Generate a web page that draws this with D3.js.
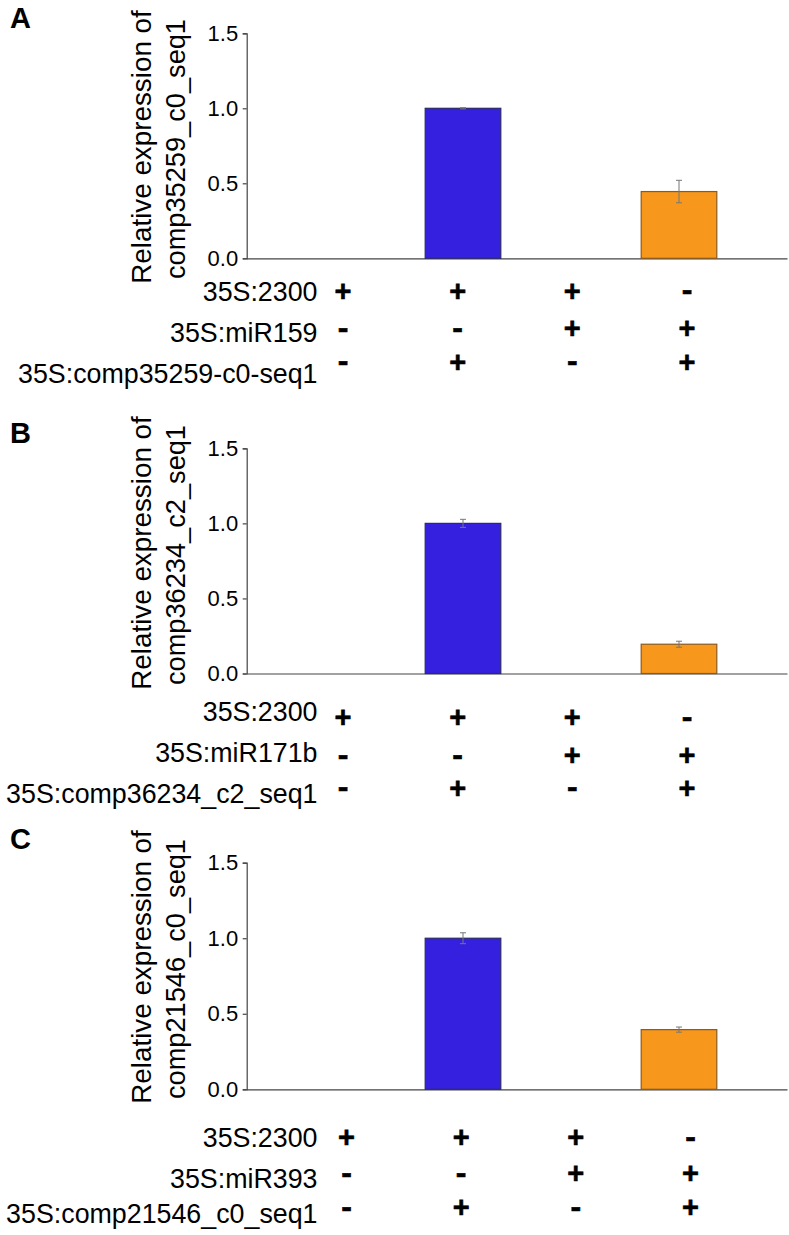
<!DOCTYPE html>
<html>
<head>
<meta charset="utf-8">
<script src="https://cdn.jsdelivr.net/npm/d3@7"></script>
<style>
  html, body { margin: 0; padding: 0; background: #fff; }
  svg { display: block; }
  text { font-family: "Liberation Sans", Arial, Helvetica, sans-serif; fill: #000; }
</style>
</head>
<body>
<svg id="chart" width="789" height="1235"></svg>
<script>
// ---------------- data ----------------
const groups = ["g1", "g2", "g3", "g4"];
const yTicks = [0, 0.5, 1.0, 1.5];
const panelLetters = ["A", "B", "C"];
const yTitleLine1 = ["Relative expression of", "Relative expression of", "Relative expression of"];
const yTitleLine2 = ["comp35259_c0_seq1", "comp36234_c2_seq1", "comp21546_c0_seq1"];
const row1Labels = ["35S:2300", "35S:2300", "35S:2300"];
const row2Labels = ["35S:miR159", "35S:miR171b", "35S:miR393"];
const row3Labels = ["35S:comp35259-c0-seq1", "35S:comp36234_c2_seq1", "35S:comp21546_c0_seq1"];
const signs2300 = ["+", "+", "+", "-"];
const signsMiR = ["-", "-", "+", "+"];
const signsTarget = ["-", "+", "-", "+"];
const valuesA = [0, 1.0, 0, 0.445];
const errorsA = [0, 0.004, 0, 0.075];
const valuesB = [0, 1.0, 0, 0.195];
const errorsB = [0, 0.027, 0, 0.02];
const valuesC = [0, 1.0, 0, 0.395];
const errorsC = [0, 0.036, 0, 0.017];

const panelValues = [valuesA, valuesB, valuesC];
const panelErrors = [errorsA, errorsB, errorsC];

// ---------------- layout ----------------
const layout = [
  { zero: 258.3, top: 33.3, letterY: 28.3, titleY: 147, labelOff: [33, 73.7, 115], signOff: [32.4, 70, 103.4], colShift: 0 },
  { zero: 673.5, top: 448.3, letterY: 443.3, titleY: 553, labelOff: [37.8, 78.5, 119.8], signOff: [44, 81.5, 114.2], colShift: 0 },
  { zero: 1089.3, top: 862.7, letterY: 849, titleY: 967, labelOff: [48.2, 88.7, 124], signOff: [48, 84, 118], colShift: 3.5 }
];
const axisX = 246.7;
const axisRight = 787;
const blue = "#3620E0", orange = "#F7971C";
const blueStroke = "#2b2b66", orangeStroke = "#8a5a22";

const svg = d3.select("#chart");

const x = d3.scaleBand().domain(groups).range([301, 733]).paddingInner(0.3).paddingOuter(0.15);

panelLetters.forEach((letter, p) => {
  const L = layout[p];
  const g = svg.append("g");
  const y = d3.scaleLinear().domain([0, 1.5]).range([L.zero, L.top]);

  // panel letter
  g.append("text").attr("x", 10).attr("y", L.letterY)
    .attr("font-size", 29).attr("font-weight", "bold").text(letter);

  // y axis
  const yAxis = d3.axisLeft(y).tickValues(yTicks).tickFormat(d3.format(".1f"))
    .tickSize(4).tickPadding(4.5);
  const ax = g.append("g").attr("transform", `translate(${axisX},0)`).call(yAxis);
  ax.select(".domain").attr("stroke", "#444").attr("stroke-width", 1.2);
  ax.selectAll(".tick line").attr("stroke", "#444").attr("stroke-width", 1.2);
  ax.selectAll(".tick text").attr("font-size", 22)
    .attr("font-family", "'Liberation Sans', Arial, sans-serif").attr("fill", "#000");

  // x baseline
  const xLine = d3.scaleLinear().domain([0, 1]).range([axisX, axisRight]);
  const xAx = d3.axisBottom(xLine).tickValues([]).tickSizeOuter(0);
  const xa = g.append("g").attr("transform", `translate(0,${L.zero})`).call(xAx);
  xa.select(".domain").attr("stroke", "#444").attr("stroke-width", 1.2);

  // y title (two lines, rotated)
  const tcy = L.titleY;
  g.append("text").attr("transform", `translate(151,${tcy}) rotate(-90)`)
    .attr("text-anchor", "middle").attr("font-size", 27.8).text(yTitleLine1[p]);
  g.append("text").attr("transform", `translate(185,${tcy + 2}) rotate(-90)`)
    .attr("text-anchor", "middle").attr("font-size", 27.2).text(yTitleLine2[p]);

  // bars
  const vals = panelValues[p], errs = panelErrors[p];
  const data = groups.map((k, i) => ({ k, v: vals[i], e: errs[i], i }));
  const barData = data.filter(d => d.v > 0);
  g.selectAll("rect.bar").data(barData).enter().append("rect")
    .attr("class", "bar")
    .attr("x", d => x(d.k))
    .attr("width", x.bandwidth())
    .attr("y", d => y(d.v))
    .attr("height", d => y(0) - y(d.v))
    .attr("fill", d => d.i < 2 ? blue : orange)
    .attr("stroke", d => d.i < 2 ? blueStroke : orangeStroke)
    .attr("stroke-width", 1.2);

  // error bars
  const eg = g.selectAll("g.err").data(barData.filter(d => d.e > 0)).enter().append("g")
    .attr("class", "err").attr("stroke", "#777").attr("stroke-width", 1);
  const cx = d => x(d.k) + x.bandwidth() / 2;
  eg.append("line").attr("x1", cx).attr("x2", cx)
    .attr("y1", d => y(d.v + d.e)).attr("y2", d => y(d.v - d.e));
  eg.append("line").attr("x1", d => cx(d) - 3).attr("x2", d => cx(d) + 3)
    .attr("y1", d => y(d.v + d.e)).attr("y2", d => y(d.v + d.e));
  eg.append("line").attr("x1", d => cx(d) - 3).attr("x2", d => cx(d) + 3)
    .attr("y1", d => y(d.v - d.e)).attr("y2", d => y(d.v - d.e));

  // row labels
  const labels = [row1Labels[p], row2Labels[p], row3Labels[p]];
  const fsL = 26.8;
  labels.forEach((t, r) => {
    g.append("text").attr("x", 317.5).attr("y", L.zero + L.labelOff[r] + 0.355 * fsL)
      .attr("text-anchor", "end").attr("font-size", fsL).text(t);
  });

  // sign matrix
  const signCols = d3.scalePoint().domain(groups).range([343 + L.colShift, 687 + L.colShift]);
  const signRows = [signs2300, signsMiR, signsTarget];
  signRows.forEach((row, r) => {
    const cy = L.zero + L.signOff[r];
    groups.forEach((k, i) => {
      const s = row[i];
      if (s === "+") {
        g.append("text").attr("x", signCols(k)).attr("y", cy + 0.34 * 29)
          .attr("text-anchor", "middle").attr("font-size", 29).attr("font-weight", "bold")
          .attr("stroke", "#000").attr("stroke-width", 0.6).text("+");
      } else {
        g.append("text").attr("x", signCols(k)).attr("y", cy + 0.30 * 32)
          .attr("text-anchor", "middle").attr("font-size", 32).attr("font-weight", "bold")
          .attr("stroke", "#000").attr("stroke-width", 0.6).text("-");
      }
    });
  });
});
</script>
</body>
</html>
